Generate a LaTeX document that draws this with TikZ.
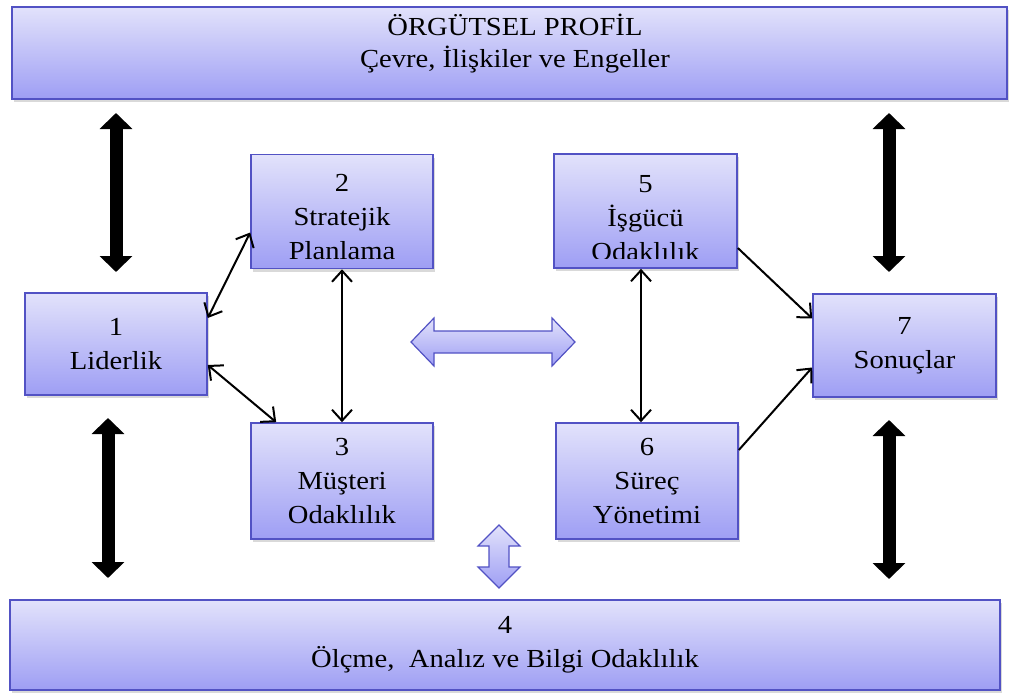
\documentclass[tikz,border=0pt]{standalone}
\usepackage{fontspec}
\setmainfont{Liberation Serif}[FakeStretch=1.1]
\usetikzlibrary{arrows.meta,positioning,calc,shadows}
\definecolor{kutuust}{RGB}{226,226,251}
\definecolor{kutualt}{RGB}{158,158,244}
\definecolor{kutucizgi}{RGB}{82,82,196}
\tikzset{every picture/.style={line width=0.75pt}}
\tikzset{
  kutu/.style={draw=kutucizgi, line width=1.6pt, top color=kutuust, bottom color=kutualt,
    align=center, inner sep=0pt, font=\fontsize{26}{34}\selectfont,
    drop shadow={opacity=0.3, shadow xshift=2pt, shadow yshift=-3pt}},
  yazi/.style={align=center, inner sep=0pt, font=\fontsize{26}{34}\selectfont},
  ince/.style={line width=2pt, {Straight Barb[length=11pt,width=20pt]}-{Straight Barb[length=11pt,width=20pt]}},
  tekok/.style={line width=2pt, -{Straight Barb[length=11pt,width=20pt]}},
  kalin/.style={line width=13pt, {Triangle[length=16pt,width=32pt]}-{Triangle[length=16pt,width=32pt]}},
  blok/.style={draw=kutucizgi, line width=1.2pt, top color=kutuust, bottom color=kutualt, line join=miter}
}

\begin{document}
\begin{tikzpicture}[x=1pt,y=-1pt]
    \useasboundingbox (0,0) rectangle (1011,693);

    % üst bant: örgütsel profil
    \node[kutu, minimum width=995pt, minimum height=92pt] (profil) at (509.5,53) {};
    \node[yazi, font=\fontsize{26}{32}\selectfont] (profilyazi) at (515,43.5)
        {ÖRGÜTSEL PROFİL\\Çevre, İlişkiler ve Engeller};

    % alt bant: 4
    \node[kutu, minimum width=990pt, minimum height=90pt] (olcme) at (505,645)
        {4\\Ölçme,\ \ Analız ve Bilgi Odaklılık};

    % kutular
    \node[kutu, minimum width=182pt, minimum height=102pt] (lider) at (116,344) {1\\Liderlik};
    \node[kutu, minimum width=182pt, minimum height=114pt] (strateji) at (342,211.5) {};
    \node[kutu, minimum width=182pt, minimum height=116pt] (musteri) at (342,481) {3\\Müşteri\\Odaklılık};
    \node[kutu, minimum width=183pt, minimum height=114pt] (isgucu) at (645.5,211) {};
    \node[kutu, minimum width=182pt, minimum height=116pt] (surec) at (647,481) {6\\Süreç\\Yönetimi};
    \node[kutu, minimum width=183pt, minimum height=103pt] (sonuc) at (904.5,345.5) {7\\Sonuçlar};

    % taşan yazılar (alttan kesik)
    \begin{scope}
        \clip (strateji.north west) rectangle ([yshift=10pt]strateji.south east);
        \node[yazi] (stratejiyazi) at ([yshift=-6pt]strateji.center) {2\\Stratejik\\Planlama};
    \end{scope}
    \begin{scope}
        \clip (isgucu.north west) rectangle ([yshift=10pt]isgucu.south east);
        \node[yazi] (isgucuyazi) at ([yshift=-7.5pt]isgucu.center) {5\\İşgücü\\Odaklılık};
    \end{scope}

    % ince oklar
    \draw[ince] ([yshift=26pt]lider.east) -- ([yshift=-21pt]strateji.west);
    \draw[ince] ([yshift=-21pt]lider.east) -- ([xshift=26pt]musteri.north west);
    \draw[ince] (strateji.south) -- (musteri.north);
    \draw[ince] ([xshift=-4.5pt]isgucu.south) -- ([xshift=-6pt]surec.north);
    \draw[tekok] ([yshift=-37pt]isgucu.east) -- ([yshift=27pt]sonuc.west);
    \draw[tekok] ([yshift=31pt]surec.east) -- ([yshift=-22pt]sonuc.west);

    % kalın siyah oklar
    \coordinate (su1) at (116,113);
    \coordinate (sa1) at (116,272);
    \coordinate (su2) at (889,113);
    \coordinate (sa2) at (889,272);
    \coordinate (su3) at (108,418);
    \coordinate (sa3) at (108,578);
    \coordinate (su4) at (889,420);
    \coordinate (sa4) at (889,579);
    \draw[kalin] (su1) -- (sa1);
    \draw[kalin] (su2) -- (sa2);
    \draw[kalin] (su3) -- (sa3);
    \draw[kalin] (su4) -- (sa4);

    % mavi blok oklar
    \draw[blok] (411,342) -- (434,318) -- (434,331) -- (552,331) -- (552,318) -- (575,342)
        -- (552,366) -- (552,353) -- (434,353) -- (434,366) -- cycle;
    \draw[blok] (499,525) -- (520,546) -- (509,546) -- (509,567) -- (520,567) -- (499,588)
        -- (478,567) -- (489,567) -- (489,546) -- (478,546) -- cycle;
\end{tikzpicture}
\end{document}
